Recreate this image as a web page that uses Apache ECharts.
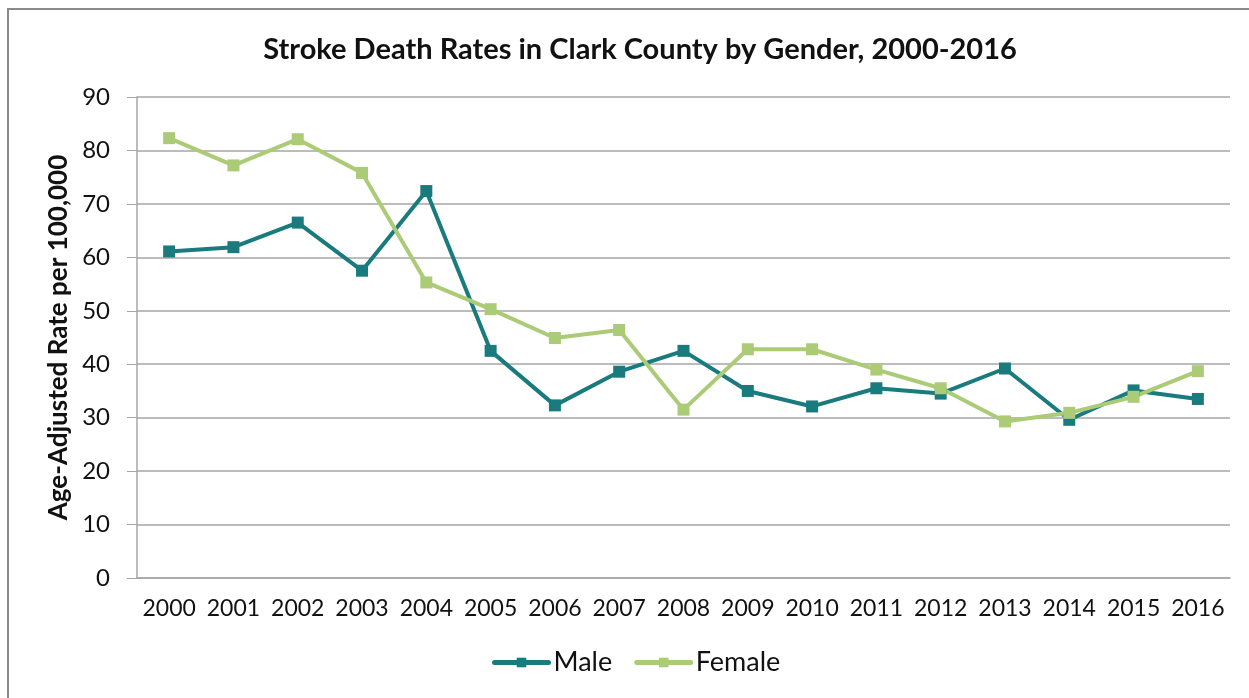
<!DOCTYPE html>
<html lang="en">
<head>
  <meta charset="UTF-8">
  <title>Stroke Death Rates</title>
  <style>
    html, body { margin: 0; padding: 0; background: #fff; }
    #main { width: 1249px; height: 698px; }
  </style>
</head>
<body>
<div id="main"></div>
<script src="https://cdn.jsdelivr.net/npm/echarts@6/dist/echarts.min.js"></script>
<script type="text/javascript">
  const years = ['2000', '2001', '2002', '2003', '2004', '2005', '2006', '2007', '2008',
    '2009', '2010', '2011', '2012', '2013', '2014', '2015', '2016']
  const male = [61.1, 61.9, 66.5, 57.5, 72.4, 42.5, 32.3, 38.6, 42.5, 35.0, 32.1, 35.5, 34.5, 39.2, 29.6, 35.1, 33.5]
  const female = [82.3, 77.2, 82.1, 75.8, 55.3, 50.3, 44.9, 46.4, 31.5, 42.8, 42.8, 39.0, 35.5, 29.3, 30.9, 33.9, 38.7]
  const yTicks = [0, 10, 20, 30, 40, 50, 60, 70, 80, 90]

  const font = 'Lato, "Open Sans", sans-serif'
  const chart = echarts.init(document.getElementById('main'))

  const lineSeries = (name, data, color) => ({
    name: name,
    type: 'line',
    data: data,
    symbol: 'rect',
    symbolSize: 12,
    lineStyle: {width: 4, color: color},
    itemStyle: {color: color},
    emphasis: {disabled: true}
  })

  const option = {
    animation: false,
    textStyle: {fontFamily: font},
    graphic: [{
      type: 'rect',
      shape: {x: 8, y: 9, width: 1300, height: 760},
      style: {fill: 'none', stroke: '#8a8a8a', lineWidth: 2},
      silent: true
    }],
    title: {
      text: 'Stroke Death Rates in Clark County by Gender, 2000-2016',
      left: 635,
      textAlign: 'center',
      top: 30,
      textStyle: {fontFamily: font, fontSize: 29, fontWeight: 'bold', color: '#111'}
    },
    legend: {
      data: ['Male', 'Female'],
      bottom: 17,
      left: 487,
      itemWidth: 54,
      itemHeight: 12,
      itemGap: 22,
      lineStyle: {width: 5, cap: 'round'},
      textStyle: {fontFamily: font, fontSize: 27, color: '#111'}
    },
    grid: {left: 137, right: 19, top: 97, bottom: 120},
    xAxis: {
      type: 'category',
      data: years,
      boundaryGap: true,
      axisLine: {lineStyle: {color: '#a6a6a6', width: 1.5}},
      axisTick: {length: 8, lineStyle: {color: '#a6a6a6'}},
      axisLabel: {fontFamily: font, fontSize: 23, color: '#111', margin: 19, interval: 0}
    },
    yAxis: {
      type: 'value',
      min: yTicks[0],
      max: yTicks[yTicks.length - 1],
      interval: 10,
      name: 'Age-Adjusted Rate per 100,000',
      nameLocation: 'middle',
      nameGap: 63,
      nameTextStyle: {fontFamily: font, fontSize: 26, fontWeight: 'bold', color: '#111'},
      axisLine: {show: true, lineStyle: {color: '#a6a6a6', width: 1.5}},
      axisTick: {show: true, length: 10, lineStyle: {color: '#a6a6a6'}},
      splitLine: {lineStyle: {color: '#a6a6a6', width: 1.5}},
      axisLabel: {fontFamily: font, fontSize: 24, color: '#111', margin: 27}
    },
    series: [
      lineSeries('Male', male, '#197b7d'),
      lineSeries('Female', female, '#abcb77')
    ]
  }

  chart.setOption(option)
</script>
</body>
</html>
